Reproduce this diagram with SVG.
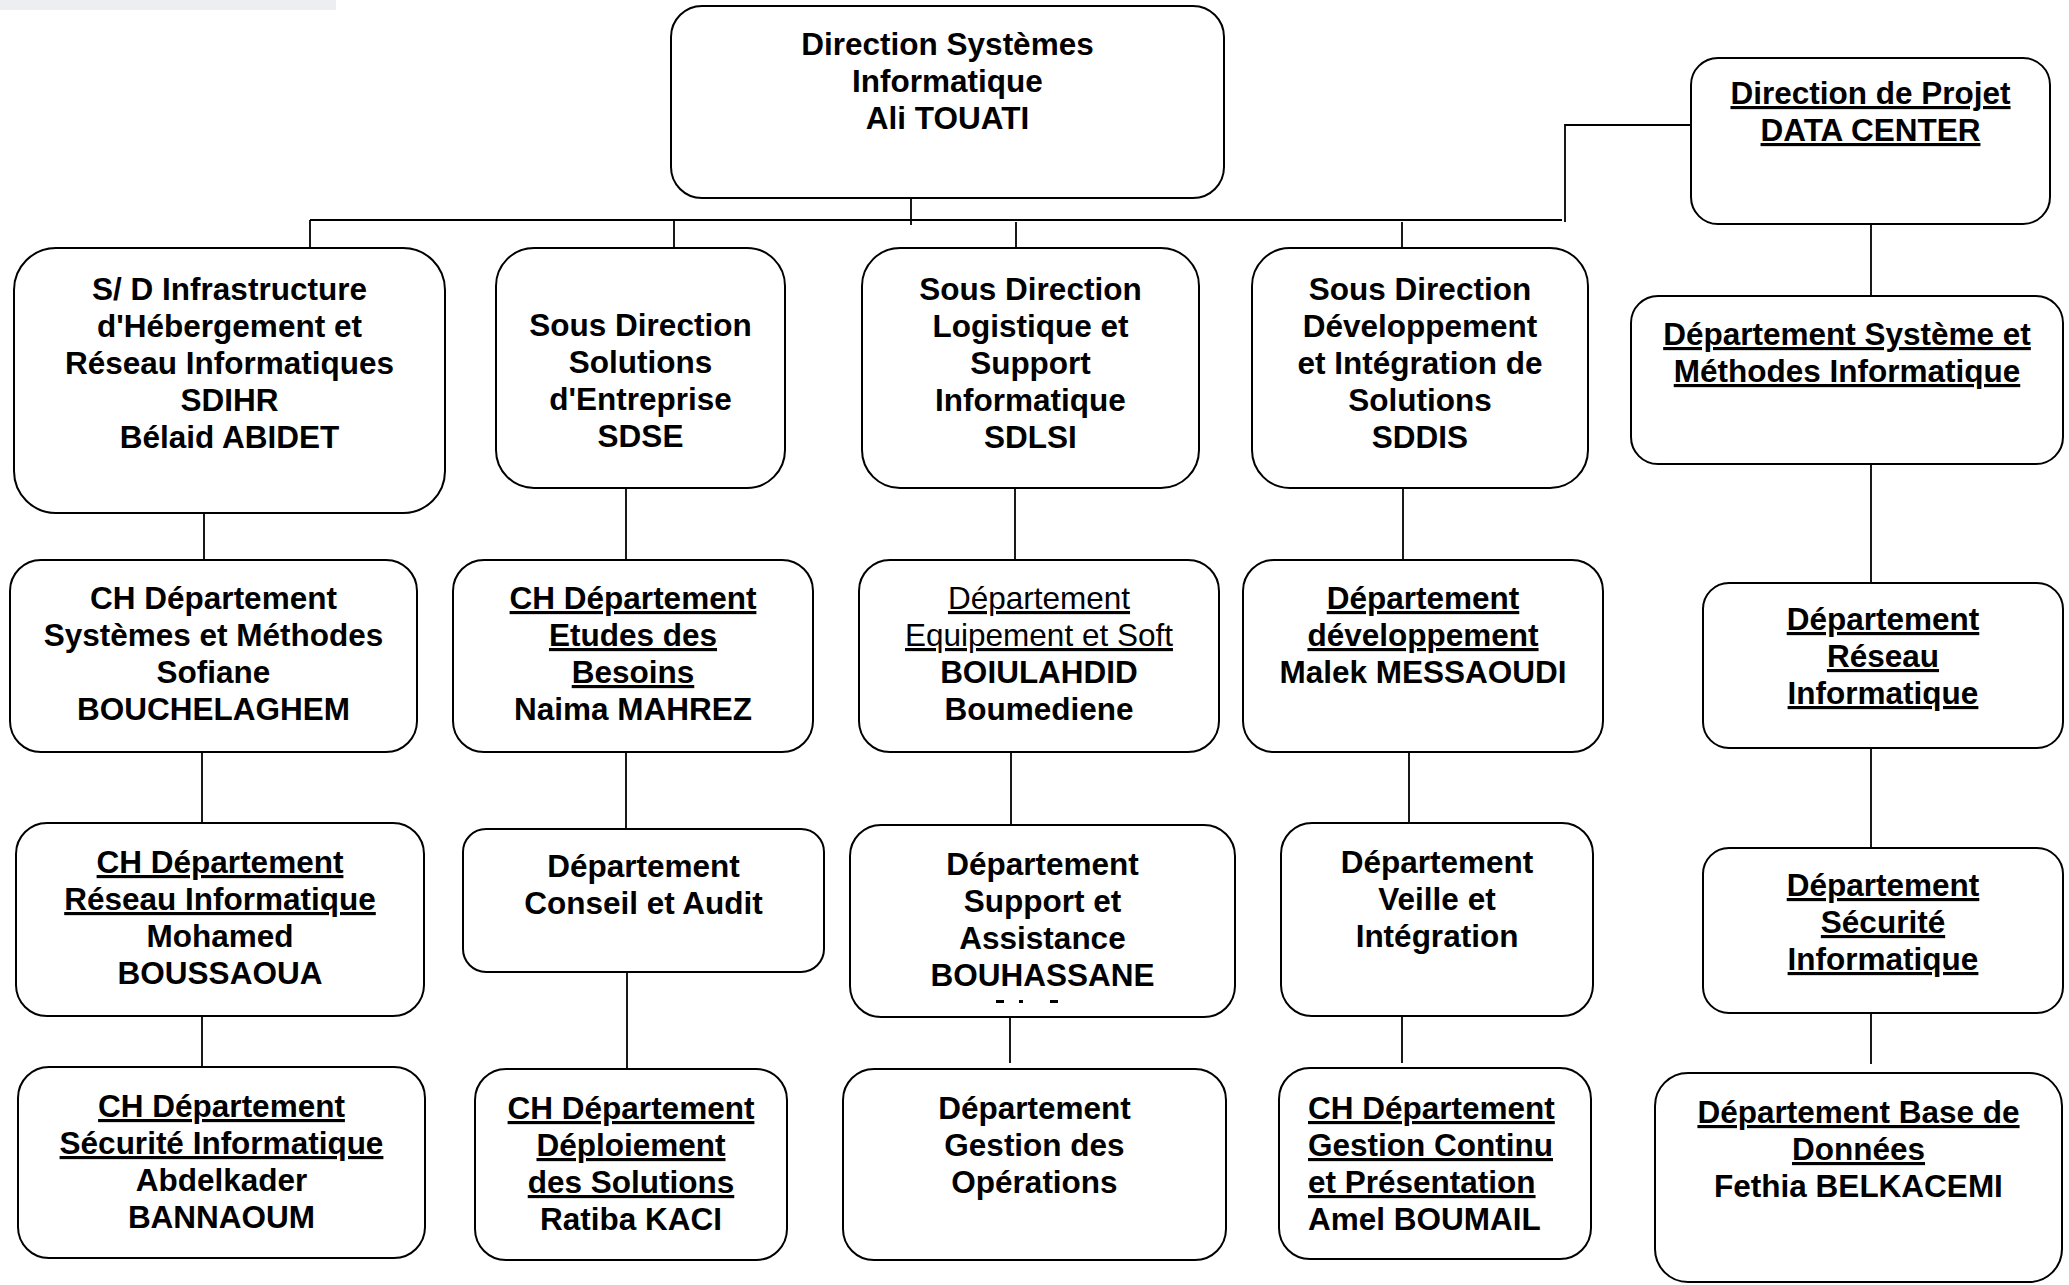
<svg xmlns="http://www.w3.org/2000/svg" width="2069" height="1285" viewBox="0 0 2069 1285">
  <style>
    .box { fill: #ffffff; stroke: #000000; stroke-width: 2; }
    .t { font-family: "Liberation Sans", Arial, Helvetica, sans-serif; font-size: 31.5px; font-weight: bold; fill: #000000; text-anchor: middle; }
    .l { text-anchor: start; }
    .u { text-decoration: underline; }
    .r { font-weight: normal; }
    .con { stroke: #000000; stroke-width: 1.8; fill: none; }
  </style>

  <rect width="2069" height="1285" fill="#ffffff"/>
  <!-- faint header strip -->
  <rect x="0" y="0" width="336" height="10" fill="#eceef1"/>

  <!-- connectors -->
  <g id="connectors" class="con">
    <line x1="911" y1="198" x2="911" y2="225"/>
    <line x1="310" y1="220" x2="1562" y2="220"/>
    <line x1="310" y1="220" x2="310" y2="248"/>
    <line x1="674" y1="220" x2="674" y2="248"/>
    <line x1="1016" y1="222" x2="1016" y2="248"/>
    <line x1="1402" y1="222" x2="1402" y2="248"/>
    <polyline points="1565,222 1565,125 1691,125"/>

    <line x1="204" y1="513" x2="204" y2="560"/>
    <line x1="202" y1="752" x2="202" y2="823"/>
    <line x1="202" y1="1016" x2="202" y2="1067"/>

    <line x1="626" y1="488" x2="626" y2="560"/>
    <line x1="626" y1="752" x2="626" y2="829"/>
    <line x1="627" y1="969" x2="627" y2="1069"/>

    <line x1="1015" y1="488" x2="1015" y2="560"/>
    <line x1="1011" y1="752" x2="1011" y2="825"/>
    <line x1="1010" y1="1014" x2="1010" y2="1063"/>

    <line x1="1403" y1="488" x2="1403" y2="560"/>
    <line x1="1409" y1="752" x2="1409" y2="823"/>
    <line x1="1402" y1="1016" x2="1402" y2="1063"/>

    <line x1="1871" y1="224" x2="1871" y2="296"/>
    <line x1="1871" y1="464" x2="1871" y2="583"/>
    <line x1="1871" y1="748" x2="1871" y2="848"/>
    <line x1="1871" y1="1013" x2="1871" y2="1064"/>
  </g>

  <!-- level 0 -->
  <g id="dsi">
    <rect class="box" x="671" y="6" width="553" height="192" rx="31"/>
    <text class="t" x="947.5" y="55">Direction Systèmes</text>
    <text class="t" x="947.5" y="92">Informatique</text>
    <text class="t" x="947.5" y="129">Ali TOUATI</text>
  </g>

  <g id="dp-datacenter">
    <rect class="box" x="1691" y="58" width="359" height="166" rx="27"/>
    <text class="t u" x="1870.5" y="104">Direction de Projet</text>
    <text class="t u" x="1870.5" y="141">DATA CENTER</text>
  </g>

  <!-- level 1 -->
  <g id="sdihr">
    <rect class="box" x="14" y="248" width="431" height="265" rx="42"/>
    <text class="t" x="229.5" y="300">S/ D Infrastructure</text>
    <text class="t" x="229.5" y="337">d'Hébergement et</text>
    <text class="t" x="229.5" y="374">Réseau Informatiques</text>
    <text class="t" x="229.5" y="411">SDIHR</text>
    <text class="t" x="229.5" y="448">Bélaid ABIDET</text>
  </g>

  <g id="sdse">
    <rect class="box" x="496" y="248" width="289" height="240" rx="38"/>
    <text class="t" x="640.5" y="336">Sous Direction</text>
    <text class="t" x="640.5" y="373">Solutions</text>
    <text class="t" x="640.5" y="410">d'Entreprise</text>
    <text class="t" x="640.5" y="447">SDSE</text>
  </g>

  <g id="sdlsi">
    <rect class="box" x="862" y="248" width="337" height="240" rx="38"/>
    <text class="t" x="1030.5" y="300">Sous Direction</text>
    <text class="t" x="1030.5" y="337">Logistique et</text>
    <text class="t" x="1030.5" y="374">Support</text>
    <text class="t" x="1030.5" y="411">Informatique</text>
    <text class="t" x="1030.5" y="448">SDLSI</text>
  </g>

  <g id="sddis">
    <rect class="box" x="1252" y="248" width="336" height="240" rx="38"/>
    <text class="t" x="1420" y="300">Sous Direction</text>
    <text class="t" x="1420" y="337">Développement</text>
    <text class="t" x="1420" y="374">et Intégration de</text>
    <text class="t" x="1420" y="411">Solutions</text>
    <text class="t" x="1420" y="448">SDDIS</text>
  </g>

  <g id="dp-systeme-methodes">
    <rect class="box" x="1631" y="296" width="432" height="168" rx="27"/>
    <text class="t u" x="1847" y="345">Département Système et</text>
    <text class="t u" x="1847" y="382">Méthodes Informatique</text>
  </g>

  <!-- level 2 -->
  <g id="dep-systemes-methodes">
    <rect class="box" x="10" y="560" width="407" height="192" rx="31"/>
    <text class="t" x="213.5" y="609">CH Département</text>
    <text class="t" x="213.5" y="646">Systèmes et Méthodes</text>
    <text class="t" x="213.5" y="683">Sofiane</text>
    <text class="t" x="213.5" y="720">BOUCHELAGHEM</text>
  </g>

  <g id="dep-etudes-besoins">
    <rect class="box" x="453" y="560" width="360" height="192" rx="31"/>
    <text class="t u" x="633" y="609">CH Département</text>
    <text class="t u" x="633" y="646">Etudes des</text>
    <text class="t u" x="633" y="683">Besoins</text>
    <text class="t" x="633" y="720">Naima MAHREZ</text>
  </g>

  <g id="dep-equipement-soft">
    <rect class="box" x="859" y="560" width="360" height="192" rx="31"/>
    <text class="t u r" x="1039" y="609">Département</text>
    <text class="t u r" x="1039" y="646">Equipement et Soft</text>
    <text class="t" x="1039" y="683">BOIULAHDID</text>
    <text class="t" x="1039" y="720">Boumediene</text>
  </g>

  <g id="dep-developpement">
    <rect class="box" x="1243" y="560" width="360" height="192" rx="31"/>
    <text class="t u" x="1423" y="609">Département</text>
    <text class="t u" x="1423" y="646">développement</text>
    <text class="t" x="1423" y="683">Malek MESSAOUDI</text>
  </g>

  <g id="dp-reseau">
    <rect class="box" x="1703" y="583" width="360" height="165" rx="26"/>
    <text class="t u" x="1883" y="630">Département</text>
    <text class="t u" x="1883" y="667">Réseau</text>
    <text class="t u" x="1883" y="704">Informatique</text>
  </g>

  <!-- level 3 -->
  <g id="dep-reseau-informatique">
    <rect class="box" x="16" y="823" width="408" height="193" rx="31"/>
    <text class="t u" x="220" y="873">CH Département</text>
    <text class="t u" x="220" y="910">Réseau Informatique</text>
    <text class="t" x="220" y="947">Mohamed</text>
    <text class="t" x="220" y="984">BOUSSAOUA</text>
  </g>

  <g id="dep-conseil-audit">
    <rect class="box" x="463" y="829" width="361" height="143" rx="23"/>
    <text class="t" x="643.5" y="877">Département</text>
    <text class="t" x="643.5" y="914">Conseil et Audit</text>
  </g>

  <g id="dep-support-assistance">
    <rect class="box" x="850" y="825" width="385" height="192" rx="31"/>
    <text class="t" x="1042.5" y="875">Département</text>
    <text class="t" x="1042.5" y="912">Support et</text>
    <text class="t" x="1042.5" y="949">Assistance</text>
    <text class="t" x="1042.5" y="986">BOUHASSANE</text>
    <rect x="996" y="1000" width="8" height="3" fill="#000000"/>
    <rect x="1019" y="1000" width="4" height="3" fill="#000000"/>
    <rect x="1050" y="1000" width="8" height="3" fill="#000000"/>
  </g>

  <g id="dep-veille-integration">
    <rect class="box" x="1281" y="823" width="312" height="193" rx="31"/>
    <text class="t" x="1437" y="873">Département</text>
    <text class="t" x="1437" y="910">Veille et</text>
    <text class="t" x="1437" y="947">Intégration</text>
  </g>

  <g id="dp-securite">
    <rect class="box" x="1703" y="848" width="360" height="165" rx="26"/>
    <text class="t u" x="1883" y="896">Département</text>
    <text class="t u" x="1883" y="933">Sécurité</text>
    <text class="t u" x="1883" y="970">Informatique</text>
  </g>

  <!-- level 4 -->
  <g id="dep-securite-informatique">
    <rect class="box" x="18" y="1067" width="407" height="191" rx="31"/>
    <text class="t u" x="221.5" y="1117">CH Département</text>
    <text class="t u" x="221.5" y="1154">Sécurité Informatique</text>
    <text class="t" x="221.5" y="1191">Abdelkader</text>
    <text class="t" x="221.5" y="1228">BANNAOUM</text>
  </g>

  <g id="dep-deploiement">
    <rect class="box" x="475" y="1069" width="312" height="191" rx="31"/>
    <text class="t u" x="631" y="1119">CH Département</text>
    <text class="t u" x="631" y="1156">Déploiement</text>
    <text class="t u" x="631" y="1193">des Solutions</text>
    <text class="t" x="631" y="1230">Ratiba KACI</text>
  </g>

  <g id="dep-gestion-operations">
    <rect class="box" x="843" y="1069" width="383" height="191" rx="31"/>
    <text class="t" x="1034.5" y="1119">Département</text>
    <text class="t" x="1034.5" y="1156">Gestion des</text>
    <text class="t" x="1034.5" y="1193">Opérations</text>
  </g>

  <g id="dep-gestion-continu">
    <rect class="box" x="1279" y="1068" width="312" height="191" rx="31"/>
    <text class="t l u" x="1308" y="1119">CH Département</text>
    <text class="t l u" x="1308" y="1156">Gestion Continu</text>
    <text class="t l u" x="1308" y="1193">et Présentation</text>
    <text class="t l" x="1308" y="1230">Amel BOUMAIL</text>
  </g>

  <g id="dp-base-donnees">
    <rect class="box" x="1655" y="1073" width="407" height="209" rx="33"/>
    <text class="t u" x="1858.5" y="1123">Département Base de</text>
    <text class="t u" x="1858.5" y="1160">Données</text>
    <text class="t" x="1858.5" y="1197">Fethia BELKACEMI</text>
  </g>
</svg>
